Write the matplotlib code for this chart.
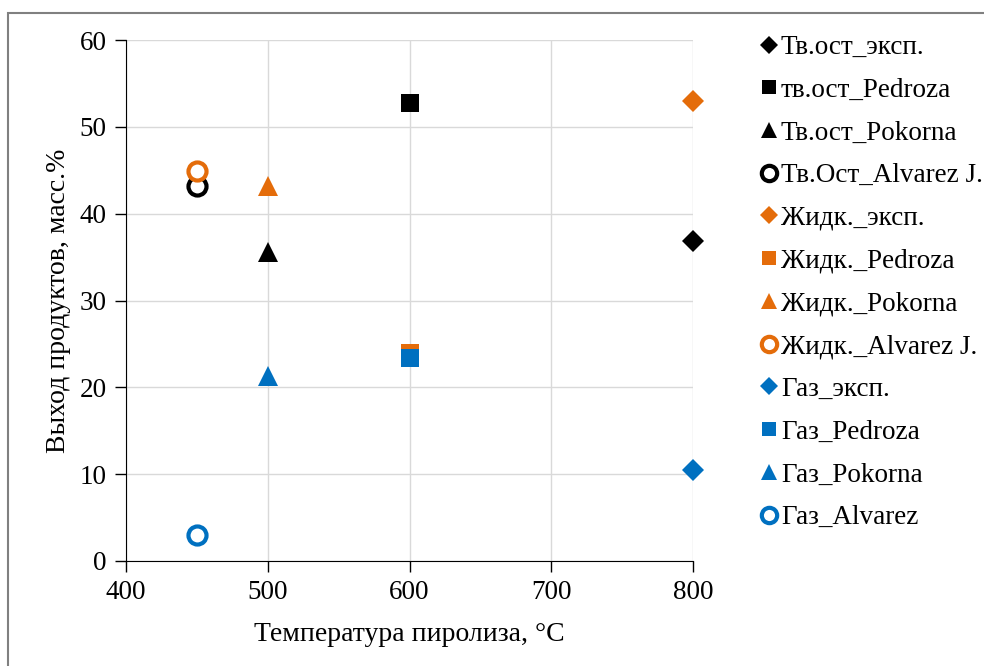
import numpy as np
import matplotlib.pyplot as plt
from matplotlib.patches import Rectangle

plt.rcParams['font.family'] = ['Liberation Serif', 'DejaVu Serif']

# температуры пиролиза, °C
t_eksp = [800]
t_pedroza = [600]
t_pokorna = [500]
t_alvarez = [450]

# выход продуктов, масс.%
tv_eksp = [36.8]
tv_pedroza = [52.7]
tv_pokorna = [35.6]
tv_alvarez = [43.2]

zh_eksp = [53.0]
zh_pedroza = [24.0]
zh_pokorna = [43.2]
zh_alvarez = [44.9]

gaz_eksp = [10.5]
gaz_pedroza = [23.4]
gaz_pokorna = [21.3]
gaz_alvarez = [3.0]

black = '#000000'
orange = '#E46C0A'
blue = '#0070C0'

series = [
    (t_eksp, tv_eksp, 'D', black, 'Тв.ост_эксп.'),
    (t_pedroza, tv_pedroza, 's', black, 'тв.ост_Pedroza'),
    (t_pokorna, tv_pokorna, '^', black, 'Тв.ост_Pokorna'),
    (t_alvarez, tv_alvarez, 'o', black, 'Тв.Ост_Alvarez J.'),
    (t_eksp, zh_eksp, 'D', orange, 'Жидк._эксп.'),
    (t_pedroza, zh_pedroza, 's', orange, 'Жидк._Pedroza'),
    (t_pokorna, zh_pokorna, '^', orange, 'Жидк._Pokorna'),
    (t_alvarez, zh_alvarez, 'o', orange, 'Жидк._Alvarez J.'),
    (t_eksp, gaz_eksp, 'D', blue, 'Газ_эксп.'),
    (t_pedroza, gaz_pedroza, 's', blue, 'Газ_Pedroza'),
    (t_pokorna, gaz_pokorna, '^', blue, 'Газ_Pokorna'),
    (t_alvarez, gaz_alvarez, 'o', blue, 'Газ_Alvarez'),
]

fig = plt.figure(figsize=(9.84, 6.66), dpi=100)
ax = fig.add_axes([126/984, 1-561/666, (693-126)/984, (561-40)/666])

sizes = {'D': 11, 's': 12.5, '^': 14, 'o': 13}
for x, y, m, c, lab in series:
    if m == 'o':
        ax.plot(x, y, linestyle='none', marker=m, markersize=sizes[m],
                markerfacecolor='white', markeredgecolor=c, markeredgewidth=3,
                label=lab, clip_on=False)
    else:
        ax.plot(x, y, linestyle='none', marker=m, markersize=sizes[m],
                color=c, markeredgewidth=0, label=lab, clip_on=False)

ax.set_xlim(400, 800)
ax.set_ylim(0, 60)
ax.set_xticks(np.arange(400, 801, 100))
ax.set_yticks(np.arange(0, 61, 10))
ax.grid(True, color='#D9D9D9', linewidth=1)
ax.set_axisbelow(True)
for s in ['top', 'right']:
    ax.spines[s].set_visible(False)
ax.spines['left'].set_color('black')
ax.spines['bottom'].set_color('black')
ax.tick_params(direction='out', length=8, width=1, labelsize=19.5, pad=6)

ax.set_xlabel('Температура пиролиза, °C', fontsize=20, labelpad=12)
ax.set_ylabel('Выход продуктов, масс.%', fontsize=20, labelpad=6)

ax.legend(loc='upper left', bbox_to_anchor=(762/984, 1-35/666),
          bbox_transform=fig.transFigure, frameon=False, fontsize=19.5,
          handlelength=0.55, handletextpad=0.15, labelspacing=0.655,
          markerscale=0.85, borderaxespad=0, borderpad=0)

# рамка области диаграммы
fig.patches.append(Rectangle((8/984, -0.1), 1.2, 1.1 - 13/666,
                             transform=fig.transFigure, fill=False,
                             edgecolor='#808080', linewidth=1.5))

fig.savefig('out.png', dpi=100)
